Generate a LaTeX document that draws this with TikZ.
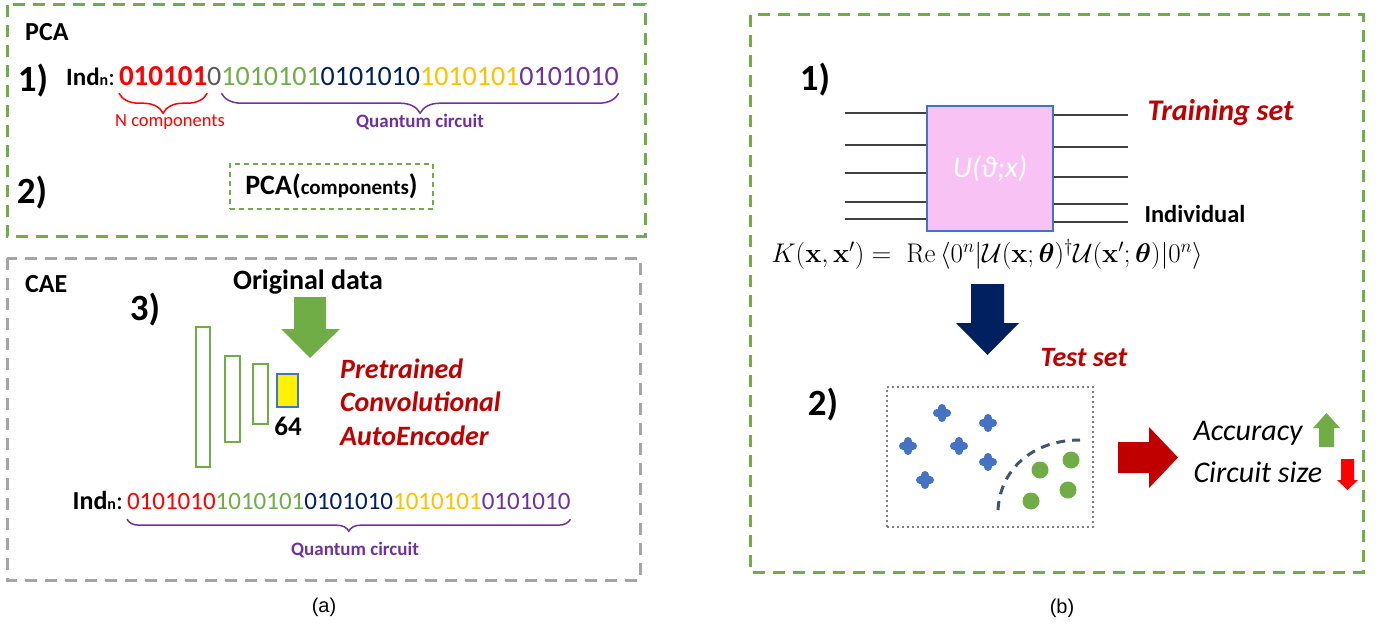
\RequirePackage{fix-cm}
\documentclass[tikz,border=0pt]{standalone}
\usepackage{amsmath,amssymb}
\usepackage[no-math]{fontspec}
\setmainfont{Carlito}
\newfontfamily\capfont{Liberation Sans}
\usepackage{xcolor}
\usetikzlibrary{positioning,decorations.pathreplacing}

\definecolor{pcagreen}{HTML}{70AD47}
\definecolor{boxgray}{HTML}{A5A5A5}
\definecolor{bitred}{HTML}{FF0000}
\definecolor{bitgray}{HTML}{595959}
\definecolor{bitnavy}{HTML}{002060}
\definecolor{bitgold}{HTML}{FFC000}
\definecolor{bitpurple}{HTML}{7030A0}
\definecolor{darkred}{HTML}{C00000}
\definecolor{circblue}{HTML}{4472C4}
\definecolor{circpink}{HTML}{F8C2F4}
\definecolor{dotgray}{HTML}{7F7F7F}
\definecolor{slate}{HTML}{44546A}

\newcommand{\fsz}[1]{\fontsize{#1}{#1}\selectfont}

\begin{document}
\begin{tikzpicture}[x=1pt, y=-1pt,
    panel/.style={line width=3pt, dash pattern=on 12pt off 8pt},
    bits/.style={inner sep=0pt, outer sep=0pt},
    tag/.style={font=\bfseries\fsz{37}},
    layer/.style={draw=pcagreen, line width=2.5pt, inner sep=0pt},
    bracedown/.style={decorate, decoration={brace, mirror, amplitude=#1}, line width=1.5pt},
    wire/.style={line width=1.3pt, draw=black!75},
    plus/.style={line width=8pt, line cap=round, circblue},
    gdot/.style={circle, fill=pcagreen, inner sep=0pt, minimum size=17pt}]
    \useasboundingbox (0,0) rectangle (1379,626);

    % (a) top: PCA encoding
    \draw[panel, pcagreen] (7,5) rectangle (645,236);
    \node[anchor=west, inner sep=0pt, font=\bfseries\fsz{26}] (pcatitle) at (25,32) {PCA};
    \node[tag] (pca1) at (33,81) {1)};
    \node[bits, anchor=base east, font=\fsz{25}] (ind1) at (115,85) {\textbf{Ind}{\fsz{16}\textbf{n}}:};
    \node[bits, anchor=base west, font=\bfseries\fsz{29}, text=bitred] (r1) at (119,85) {010101};
    \node[bits, base right=0pt of r1, font=\fsz{28}, text=bitgray] (s1) {0};
    \node[bits, base right=0pt of s1, font=\fsz{28}, text=pcagreen] (g1) {1010101};
    \node[bits, base right=0pt of g1, font=\fsz{28}, text=bitnavy] (n1) {0101010};
    \node[bits, base right=0pt of n1, font=\fsz{28}, text=bitgold] (y1) {1010101};
    \node[bits, base right=0pt of y1, font=\fsz{28}, text=bitpurple] (p1) {0101010};
    \draw[bracedown=20pt, bitred] ([yshift=-8pt]r1.south west) -- ([yshift=-8pt]r1.south east);
    \draw[bracedown=20pt, bitpurple] ([yshift=-8pt]g1.south west) -- ([yshift=-8pt]p1.south east);
    \node[font=\fsz{18.5}, text=bitred] (ncomp) at (170,122) {N components};
    \node[font=\bfseries\fsz{19}, text=bitpurple] (qc1) at (420,122) {Quantum circuit};

    \node[tag] (pca2) at (32,193) {2)};
    \node[draw=pcagreen, line width=1.5pt, dash pattern=on 5pt off 4pt, minimum width=203pt,
          minimum height=45pt, font=\bfseries] (pcafun) at (331.5,186.5)
          {\fsz{28}PCA(\fsz{21}components\fsz{28})};

    % (a) bottom: autoencoder
    \draw[panel, boxgray] (7,258) rectangle (640,580);
    \node[anchor=west, inner sep=0pt, font=\bfseries\fsz{26}] (caetitle) at (25,284) {CAE};
    \node[font=\bfseries\fsz{28}] (orig) at (308,282) {Original data};
    \node[tag] (cae3) at (145,310) {3)};
    \fill[pcagreen] (294,297) -- (326,297) -- (326,329) -- (340,329) -- (310,358)
        -- (281,329) -- (294,329) -- cycle;
    \node[layer, minimum width=14pt, minimum height=140pt] (l1) at (203,397) {};
    \node[layer, minimum width=15pt, minimum height=86pt] (l2) at (232.5,399) {};
    \node[layer, minimum width=15pt, minimum height=60pt] (l3) at (260.5,394) {};
    \node[draw=circblue, fill=yellow, line width=2.5pt, inner sep=0pt,
          minimum width=21pt, minimum height=33pt] (code) at (287.5,390.5) {};
    \node[font=\bfseries\fsz{27}] (dim) at (288,426) {64};
    \node[anchor=west, align=left, inner sep=0pt, text=darkred,
          font=\bfseries\itshape\fontsize{28}{33.5}\selectfont] (cae) at (340,402)
          {Pretrained\\Convolutional\\AutoEncoder};

    \node[bits, anchor=base east, font=\fsz{26}] (ind2) at (123,509) {\textbf{Ind}{\fsz{16}\textbf{n}}:};
    \node[bits, anchor=base west, font=\fsz{25}, text=bitred] (r2) at (127,509) {0101010};
    \node[bits, base right=0pt of r2, font=\fsz{25}, text=pcagreen] (g2) {1010101};
    \node[bits, base right=0pt of g2, font=\fsz{25}, text=bitnavy] (n2) {0101010};
    \node[bits, base right=0pt of n2, font=\fsz{25}, text=bitgold] (y2) {1010101};
    \node[bits, base right=0pt of y2, font=\fsz{25}, text=bitpurple] (p2) {0101010};
    \draw[bracedown=12pt, bitpurple] ([yshift=-10pt]r2.south west) -- ([yshift=-10pt]p2.south east);
    \node[font=\bfseries\fsz{19}, text=bitpurple] (qc2) at (355,550) {Quantum circuit};

    \node[font=\capfont\fsz{20}] (capa) at (324,607) {(a)};

    % (b): kernel circuit and test
    \draw[panel, pcagreen] (750,15) rectangle (1363,572);
    \node[tag] (b1) at (815,80) {1)};
    \node[draw=circblue, fill=circpink, line width=1.5pt, minimum width=126pt, minimum height=125pt,
          font=\itshape\fsz{30}, text=white] (U) at (990,168.5) {U(ϑ;x)};
    \foreach \y in {113,145,173,202,219} {
        \coordinate (in\y) at (845,\y);
        \draw[wire] (in\y) -- (U.west |- in\y);
    }
    \foreach \y in {115,147,177,204,222} {
        \coordinate (out\y) at (1128,\y);
        \draw[wire] (U.east |- out\y) -- (out\y);
    }
    \node[anchor=west, font=\bfseries\itshape\fsz{30}, text=darkred] (train) at (1144,113) {Training set};
    \node[anchor=west, font=\bfseries\fsz{24.5}] (indiv) at (1141,214) {Individual};
    \node[font=\fsz{27}] (kernel) at (987,254)
        {$K(\mathbf{x},\mathbf{x}')=\;\mathrm{Re}\,\langle 0^n|\mathcal{U}(\mathbf{x};\boldsymbol{\theta})^\dagger\mathcal{U}(\mathbf{x}';\boldsymbol{\theta})|0^n\rangle$};

    \fill[bitnavy] (971,284) -- (1004,284) -- (1004,323) -- (1019,323) -- (987.5,355)
        -- (956,323) -- (971,323) -- cycle;
    \node[font=\bfseries\itshape\fsz{28}, text=darkred] (test) at (1084,358) {Test set};
    \node[tag] (b2) at (823,405) {2)};
    \node[draw=dotgray, line width=2.5pt, dash pattern=on 2pt off 3pt,
          minimum width=206pt, minimum height=140pt] (scatter) at (990,457) {};
    \foreach \x/\y in {942/413, 988/423, 908/446, 959/446, 988/462, 925/480}
        \draw[plus] (\x-5,\y) -- (\x+5,\y) (\x,\y-5) -- (\x,\y+5);
    \node[gdot] (c1) at (1040,470) {};
    \node[gdot] (c2) at (1071,460) {};
    \node[gdot] (c3) at (1068,490) {};
    \node[gdot] (c4) at (1031,501) {};
    \draw[slate, line width=3pt, dash pattern=on 9pt off 7pt]
        (998,510) .. controls (1000,470) and (1032,440) .. (1080,440);

    \fill[darkred] (1118,442) -- (1149,442) -- (1149,427) -- (1178,457.5) -- (1149,488)
        -- (1149,473) -- (1118,473) -- cycle;
    \node[anchor=west, font=\itshape\fsz{30}] (acc) at (1190,433) {Accuracy};
    \node[anchor=west, font=\itshape\fsz{30}] (size) at (1190,472) {Circuit size};
    \fill[pcagreen] (1319,447) -- (1319,428) -- (1313,428) -- (1326.5,413) -- (1340,428)
        -- (1334,428) -- (1334,447) -- cycle;
    \fill[bitred] (1341,459) -- (1354,459) -- (1354,480) -- (1358,480) -- (1347.5,490)
        -- (1337,480) -- (1341,480) -- cycle;

    \node[font=\capfont\fsz{20}] (capb) at (1062,608) {(b)};
\end{tikzpicture}
\end{document}
